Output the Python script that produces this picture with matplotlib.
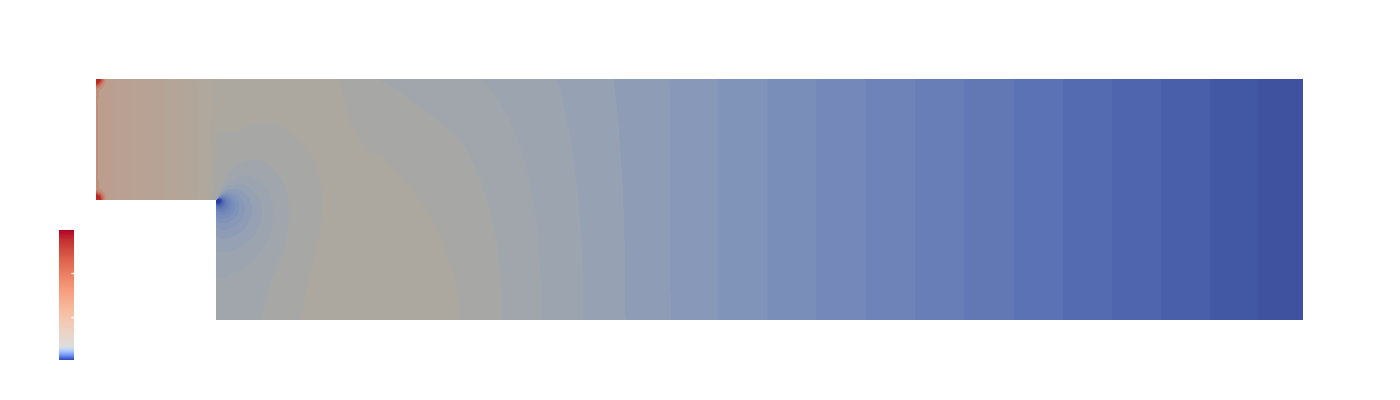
import numpy as np
import matplotlib
matplotlib.use("Agg")
import matplotlib.pyplot as plt
from matplotlib.colors import LinearSegmentedColormap, ListedColormap, Normalize

# pixel -> domain units (step height = 1, channel 2 high, 10 long)
PX0 = 96
PX_PER_UNIT = 120.7

# background level along the top wall (pixel x, level)
top_px = [96, 99, 217, 340, 377, 481, 556, 613, 669, 718, 766, 816, 866,
          914, 964, 1013, 1063, 1112, 1161, 1209, 1258, 1303]
top_lvl = [25.4, 24.8, 17.9, 17.0, 16, 15, 14, 13, 12, 11, 10, 9, 8,
           7, 6, 5, 4, 3, 2, 1, 0, -0.92]

# same along the bottom wall
bottom_px = [96, 99, 205, 217, 262, 298, 380, 458, 502, 541, 583, 625, 670, 718,
             766, 816, 866, 914, 964, 1013, 1063, 1112, 1161, 1209, 1258, 1303]
bottom_lvl = [25.4, 24.8, 18.5, 15.6, 16.08, 16.98, 17.9, 17.0, 16, 15, 14, 13, 12, 11,
              10, 9, 8, 7, 6, 5, 4, 3, 2, 1, 0, -0.92]

# low pressure spot at the step corner, high spots at the inlet corners
step_corner = (1.0, 1.0)
corner_amp = 2.05
corner_exp = 0.7
corner_len = 0.6
corner_spread = 1.34
inlet_corners = [(0.0, 1.0), (0.0, 2.0)]
inlet_amp = 0.75
inlet_len = 0.055

# field colours per level
cmap_lvl = [-4, -0.5, 3.5, 7.5, 10.5, 13.5, 15.5, 16.5, 17.5, 18.5, 20.5, 22.5,
            24.5, 26, 28, 31]
cmap_rgb = [(40, 60, 175), (62, 82, 160), (85, 108, 178), (110, 132, 185),
            (128, 148, 186), (150, 161, 179), (161, 166, 172), (167, 168, 165),
            (172, 168, 160), (176, 167, 157), (180, 165, 152), (184, 162, 148),
            (188, 159, 144), (194, 135, 115), (200, 90, 70), (185, 40, 40)]

# colour bar: coolwarm with the blue half squeezed to the bottom
cbar_stops = [0, 0.1, 1]
cbar_cw = [0, 0.5, 1]
cbar_ticks = [1 / 3, 2 / 3]


x = np.linspace(0, 10, 1201)
y = np.linspace(0, 2, 241)
X, Y = np.meshgrid(x, y)

xt = (np.array(top_px) - PX0) / PX_PER_UNIT
xb = (np.array(bottom_px) - PX0) / PX_PER_UNIT
w = (Y / 2) ** 2
P = np.interp(X, xb, bottom_lvl) * (1 - w) + np.interp(X, xt, top_lvl) * w

dx = X - step_corner[0]
dy = Y - step_corner[1]
r = np.maximum(np.hypot(dx, dy), 0.004)
theta = np.degrees(np.arctan2(dy, dx))
h = np.clip(np.cos(np.radians((theta + 45) / corner_spread)), 0, None)
P = P - corner_amp * h * r ** (-corner_exp) * np.exp(-(r / corner_len) ** 2)

for cx, cy in inlet_corners:
    ri = np.maximum(np.hypot(X - cx, Y - cy), 0.004)
    P = P + inlet_amp * ri ** (-corner_exp) * np.exp(-(ri / inlet_len) ** 2)

P = np.ma.masked_where((X < 0.999) & (Y < 0.999), P)

lo, hi = cmap_lvl[0], cmap_lvl[-1]
pos = [(v - lo) / (hi - lo) for v in cmap_lvl]
field_cmap = LinearSegmentedColormap.from_list(
    "field", list(zip(pos, [tuple(c / 255 for c in rgb) for rgb in cmap_rgb])))

fig = plt.figure(figsize=(14, 4), dpi=100)
ax = fig.add_axes([96 / 1400, 80 / 400, 1207 / 1400, 241 / 400])
ax.contourf(X, Y, P, levels=np.arange(-40, 36, 1), cmap=field_cmap,
            norm=Normalize(lo, hi), extend="both")
ax.set_xlim(0, 10)
ax.set_ylim(0, 2)
ax.axis("off")

ts = np.linspace(0, 1, 256)
cbar_cmap = ListedColormap(plt.cm.coolwarm(np.interp(ts, cbar_stops, cbar_cw)))
cax = fig.add_axes([59 / 1400, 40 / 400, 15 / 1400, 130 / 400])
sm = plt.cm.ScalarMappable(norm=Normalize(0, 1), cmap=cbar_cmap)
cb = fig.colorbar(sm, cax=cax, ticks=cbar_ticks)
cb.outline.set_visible(False)
cb.ax.tick_params(direction="in", length=2.5, width=1, colors="white",
                  labelright=False)

fig.savefig("out.png", dpi=100)
